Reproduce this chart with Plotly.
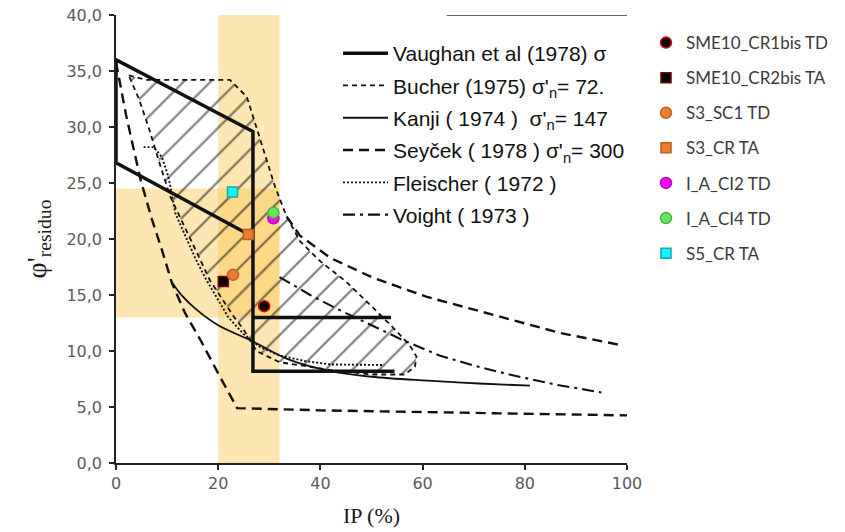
import plotly.graph_objects as go

# ---------------- data ----------------
# sample points (IP %, residual friction angle)
point_names = ["SME10_CR1bis TD", "SME10_CR2bis TA", "S3_SC1 TD", "S3_CR TA",
               "I_A_CI2 TD", "I_A_CI4 TD", "S5_CR TA"]
point_ip = [29.0, 21.0, 22.9, 25.9, 30.8, 30.8, 22.8]
point_phi = [14.0, 16.2, 16.8, 20.4, 21.85, 22.35, 24.2]
point_symbols = ["circle", "square", "circle", "square", "circle", "circle", "square"]
point_fill = ["#000000", "#000000", "#ED7D31", "#ED7D31", "#FF00FF", "#66E65A", "#00FFFF"]
point_edge = ["#E00000", "#7A0000", "#C0622A", "#B85F24", "#C000C0", "#4CAF50", "#2A9FA8"]

vaughan_ip = [0, 0, 26.8, 26.8, 54.5, None, 0, 26.8, None, 26.8, 53.8]
vaughan_phi = [26.8, 36.0, 29.6, 8.2, 8.2, None, 26.8, 20.2, None, 13.0, 13.0]

bucher_ip = [2.5, 6, 14, 22.3, 25.6, 27.5, 29.5, 31.1, 33.4, 36, 40, 45, 50, 54, 57.5, 58.8,
             58.5, 56.5, 50, 42, 32, 27.5, 25, 23, 18.4, 16.5, 13.5, 10.6, 8.5, 6.5, 4.5, 2.5]
bucher_phi = [34.6, 34.2, 34.2, 34.2, 32.7, 30.0, 27.0, 24.7, 22.0, 19.8, 18.0, 16.2, 14.0, 12.2,
              10.5, 9.5, 8.6, 7.9, 7.9, 8.3, 9.0, 10.0, 11.9, 13.1, 16.3, 18.1, 21.0, 23.8,
              26.8, 29.8, 32.5, 34.6]

kanji_ip = [11, 13, 16, 20, 26.6, 34, 42, 50, 61, 71, 81]
kanji_phi = [16.1, 14.9, 13.6, 12.3, 10.9, 9.2, 8.2, 7.7, 7.35, 7.1, 6.9]

seycek_ip = [0, 2, 4.8, 7, 9, 11, 13.5, 16.5, 20, 23.7, 40, 65, 100,
             None, 33.4, 36, 42, 50, 60.7, 75, 87, 99.1]
seycek_phi = [35.8, 31.0, 25.3, 21.8, 19.0, 16.0, 13.4, 11.0, 8.0, 4.9, 4.7, 4.5, 4.25,
              None, 22.0, 20.3, 18.3, 16.6, 14.85, 13.1, 11.6, 10.5]

fleischer_ip = [5.4, 7.4, 9, 10.3, 11.6, 13.5, 15.5, 17.5, 19.7, 22, 25, 28, 32, 37, 42, 47, 52.5]
fleischer_phi = [28.2, 28.2, 27.3, 25.5, 22.3, 20.3, 18.3, 16.5, 14.85, 13.0, 11.5, 10.4, 9.6,
                 9.1, 8.8, 8.75, 8.75]

voight_ip = [32, 38, 44, 50, 56, 63.3, 70, 77, 86, 95]
voight_phi = [16.6, 15.0, 13.6, 12.3, 11.0, 9.6, 8.7, 7.9, 7.0, 6.3]

curve_names = [
    "Vaughan et al (1978) σ",
    "Bucher (1975) σ'<sub>n</sub>= 72.",
    "Kanji ( 1974 )  σ'<sub>n</sub>= 147",
    "Seyček ( 1978 ) σ'<sub>n</sub>= 300",
    "Fleischer ( 1972 )",
    "Voight ( 1973 )",
]

x_tick_vals = [0, 20, 40, 60, 80, 100]
x_tick_labels = ["0", "20", "40", "60", "80", "100"]
y_tick_vals = [0, 5, 10, 15, 20, 25, 30, 35, 40]
y_tick_labels = ["0,0", "5,0", "10,0", "15,0", "20,0", "25,0", "30,0", "35,0", "40,0"]

# highlighted ranges
ip_band = [20, 32]
phi_band = [13.0, 24.5]
top_rule_ip = [64.7, 100]

# ---------------- figure ----------------
BAND = "rgba(250,198,80,0.44)"
fig = go.Figure()

fig.add_shape(type="rect", xref="x", yref="y", x0=ip_band[0], x1=ip_band[1], y0=0, y1=40,
              fillcolor=BAND, line_width=0, layer="below")
fig.add_shape(type="rect", xref="x", yref="y", x0=0, x1=ip_band[1], y0=phi_band[0], y1=phi_band[1],
              fillcolor=BAND, line_width=0, layer="below")
fig.add_shape(type="line", xref="x", yref="y", x0=top_rule_ip[0], x1=top_rule_ip[1], y0=40, y1=40,
              line=dict(color="#333", width=1.5))

# Bucher hatched area (fill only)
fig.add_trace(go.Scatter(x=bucher_ip, y=bucher_phi, mode="lines", fill="toself",
                         fillcolor="rgba(0,0,0,0)",
                         fillpattern=dict(shape="/", size=19, solidity=0.12, fgcolor="#000"),
                         line=dict(width=0), showlegend=False, hoverinfo="skip"))

L2 = "legend2"
fig.add_trace(go.Scatter(x=bucher_ip, y=bucher_phi, mode="lines", name=curve_names[1],
                         line=dict(color="#111", width=1.8, dash="5px,4px"),
                         legend=L2, legendgroup="b", legendrank=2))
fig.add_trace(go.Scatter(x=seycek_ip, y=seycek_phi, mode="lines", name=curve_names[3],
                         line=dict(color="#111", width=2.4, dash="10px,6px"),
                         legend=L2, legendgroup="s", legendrank=4))
fig.add_trace(go.Scatter(x=fleischer_ip, y=fleischer_phi, mode="lines", name=curve_names[4],
                         line=dict(color="#111", width=1.9, dash="2px,2px"),
                         legend=L2, legendgroup="f", legendrank=5))
fig.add_trace(go.Scatter(x=voight_ip, y=voight_phi, mode="lines", name=curve_names[5],
                         line=dict(color="#111", width=2.1, dash="12px,5px,3px,5px"),
                         legend=L2, legendgroup="vo", legendrank=6))
fig.add_trace(go.Scatter(x=kanji_ip, y=kanji_phi, mode="lines", name=curve_names[2],
                         line=dict(color="#111", width=1.8), line_shape="spline",
                         legend=L2, legendgroup="k", legendrank=3))
fig.add_trace(go.Scatter(x=vaughan_ip, y=vaughan_phi, mode="lines", name=curve_names[0],
                         line=dict(color="#111", width=3.5),
                         legend=L2, legendgroup="va", legendrank=1))

for i, nm in enumerate(point_names):
    fig.add_trace(go.Scatter(
        x=[point_ip[i]], y=[point_phi[i]], mode="markers", name=nm,
        legendgroup="p%d" % i,
        marker=dict(symbol=point_symbols[i], size=11 if point_symbols[i] == "circle" else 10,
                    color=point_fill[i], line=dict(color=point_edge[i], width=1.5)),
    ))

fig.update_layout(
    width=845, height=532,
    margin=dict(l=116, r=217, t=15, b=69, pad=0),
    paper_bgcolor="white", plot_bgcolor="white",
    xaxis=dict(range=[0, 100], tickvals=x_tick_vals, ticktext=x_tick_labels,
               showgrid=False, zeroline=False, showline=True, linecolor="#222", linewidth=1.5,
               ticks="outside", ticklen=5, tickcolor="#222", tickwidth=1.5,
               tickfont=dict(family="DejaVu Sans", size=16, color="#5a5a5a"),
               title=dict(text="IP (%)", standoff=16,
                          font=dict(family="Liberation Serif", size=22, color="#1a1a1a")),
               automargin=False),
    yaxis=dict(range=[0, 40], tickvals=y_tick_vals, ticktext=y_tick_labels,
               showgrid=False, zeroline=False, showline=True, linecolor="#222", linewidth=1.5,
               ticks="outside", ticklen=5, tickcolor="#222", tickwidth=1.5,
               ticklabelstandoff=4,
               tickfont=dict(family="DejaVu Sans", size=16, color="#5a5a5a"),
               title=dict(text="φ'<sub>residuo</sub>", standoff=12,
                          font=dict(family="Liberation Serif", size=28, color="#1a1a1a")),
               automargin=False),
    legend=dict(x=(646 - 116) / 512, xanchor="left", y=(463 - 25) / 448, yanchor="top",
                bgcolor="rgba(0,0,0,0)", borderwidth=0, tracegroupgap=10,
                font=dict(family="Lato", size=17, color="#3a3a3a")),
    legend2=dict(x=(338 - 116) / 512, xanchor="left", y=(463 - 33) / 448, yanchor="top",
                 bgcolor="rgba(0,0,0,0)", borderwidth=0, tracegroupgap=2, itemwidth=45,
                 font=dict(family="Liberation Sans", size=21, color="#111")),
    showlegend=True,
)

fig.write_html("out.html")
